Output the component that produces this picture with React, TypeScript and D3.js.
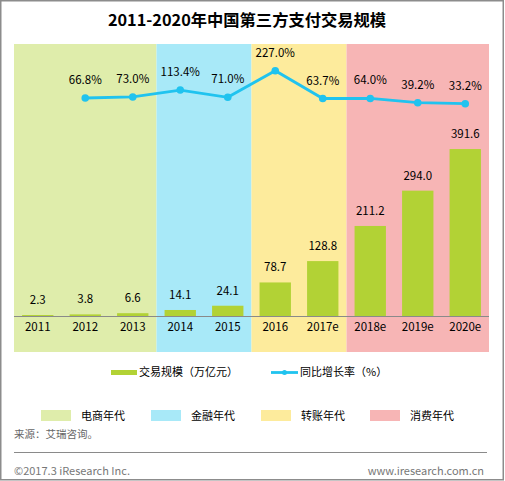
import React from 'react';
import * as d3 from 'd3';

const categories = ['2011', '2012', '2013', '2014', '2015', '2016', '2017e', '2018e', '2019e', '2020e'];
const volume = [2.3, 3.8, 6.6, 14.1, 24.1, 78.7, 128.8, 211.2, 294.0, 391.6];
const growth: (number | null)[] = [null, 66.8, 73.0, 113.4, 71.0, 227.0, 63.7, 64.0, 39.2, 33.2];
const eraNames = ['电商年代', '金融年代', '转账年代', '消费年代'];
const eraStart = ['2011', '2014', '2016', '2018e'];
const eraEnd = ['2013', '2015', '2017e', '2020e'];
const eraColors = ['#dfedab', '#a8e9f8', '#fdeb9c', '#f7b5b5'];

const W = 505;
const H = 481;
const FONT = '"Microsoft YaHei", "Noto Sans CJK SC", sans-serif';
const BAR = '#b2d235';
const LINE = '#20c3ef';

export default function App() {
  const left = 14, right = 489, top = 44, bottom = 352, axisY = 316;
  const x = d3.scaleBand<string>().domain(categories).range([left, right]).paddingInner(0.34).paddingOuter(0.17);
  const yBar = d3.scaleLinear().domain([0, 638]).range([axisY, top]);
  const yLine = d3.scaleLinear().domain([0, 250]).range([109.35, 66.8]);
  const step = x.step();
  const bandStart = (c: string) => (x(c) as number) - step * x.paddingInner() / 2;
  const cx = (c: string) => (x(c) as number) + x.bandwidth() / 2;

  const pts = categories.map((c, i) => ({ c, v: growth[i] })).filter(d => d.v != null) as { c: string; v: number }[];
  const line = d3.line<{ c: string; v: number }>().x(d => cx(d.c)).y(d => yLine(d.v));

  const eraLegendX = [41, 151, 261, 370];

  return (
    <svg width={W} height={H} style={{ position: 'absolute', left: 0, top: 0 }} fontFamily={FONT}>
      <rect x={0} y={0} width={W} height={H} fill="#fff" />
      <rect x={0.75} y={0.75} width={502.5} height={479} fill="none" stroke="#8c8c8c" strokeWidth={1.5} />
      <text x={247} y={26} textAnchor="middle" fontSize={16.3} fontWeight="bold" fill="#000">2011-2020年中国第三方支付交易规模</text>

      {eraNames.map((n, i) => {
        const x0 = bandStart(eraStart[i]);
        const x1 = bandStart(eraEnd[i]) + step;
        return <rect key={n} x={x0} y={top} width={x1 - x0} height={bottom - top} fill={eraColors[i]} />;
      })}

      {categories.map((c, i) => (
        <g key={c}>
          <rect x={x(c)} y={yBar(volume[i])} width={x.bandwidth()} height={axisY - yBar(volume[i])} fill={BAR} />
          <text x={cx(c)} y={yBar(volume[i]) - 11} textAnchor="middle" fontSize={11.5} fill="#000">{volume[i].toFixed(1)}</text>
          <text x={cx(c)} y={331} textAnchor="middle" fontSize={11.5} fill="#000">{c}</text>
        </g>
      ))}
      <line x1={left} x2={right} y1={axisY + 0.5} y2={axisY + 0.5} stroke="#8a8a8a" strokeWidth={1} />

      <path d={line(pts) || ''} fill="none" stroke={LINE} strokeWidth={2.8} />
      {pts.map(d => (
        <g key={d.c}>
          <circle cx={cx(d.c)} cy={yLine(d.v)} r={3.8} fill={LINE} />
          <text x={cx(d.c)} y={yLine(d.v) - 14} textAnchor="middle" fontSize={11.5} fill="#000">{d.v.toFixed(1)}%</text>
        </g>
      ))}

      <rect x={111} y={370} width={26} height={5} fill={BAR} />
      <text x={139} y={376} fontSize={11} fill="#000">交易规模（万亿元）</text>
      <line x1={271} x2={298} y1={372.5} y2={372.5} stroke={LINE} strokeWidth={2.8} />
      <circle cx={284.5} cy={372.5} r={2.5} fill={LINE} />
      <text x={300} y={376} fontSize={11} fill="#000">同比增长率（%）</text>

      {eraNames.map((n, i) => (
        <g key={n}>
          <rect x={eraLegendX[i]} y={410} width={30} height={11} fill={eraColors[i]} />
          <text x={eraLegendX[i] + 40} y={420} fontSize={11} fill="#000">{n}</text>
        </g>
      ))}

      <text x={14} y={438} fontSize={10.5} fill="#666">来源：艾瑞咨询。</text>
      <line x1={14} x2={487} y1={452.5} y2={452.5} stroke="#8a8a8a" strokeWidth={1} />
      <text x={14} y={475} fontSize={11} fill="#777">©2017.3 iResearch Inc.</text>
      <text x={484} y={475} textAnchor="end" fontSize={11} fill="#777">www.iresearch.com.cn</text>
    </svg>
  );
}
